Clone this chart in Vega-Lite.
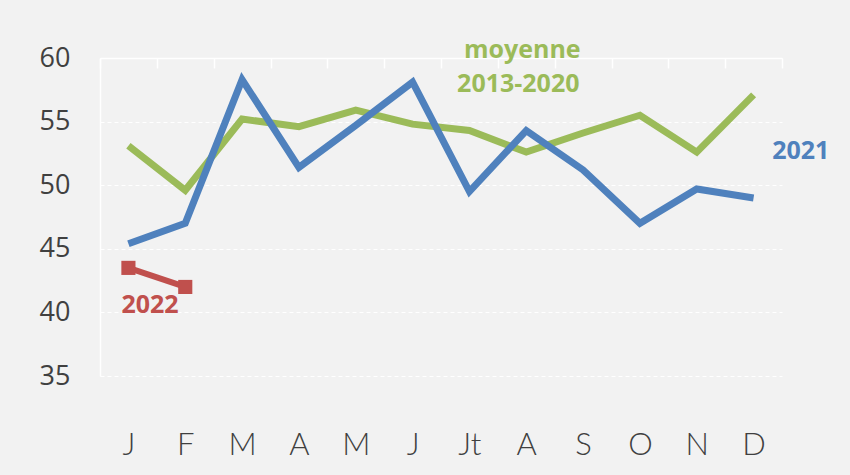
{
  "$schema": "https://vega.github.io/schema/vega-lite/v6.json",
  "autosize": {"type": "none"},
  "width": 682,
  "height": 318,
  "padding": {"left": 100, "top": 58, "right": 68, "bottom": 99},
  "background": "#f2f2f2",
  "config": {"view": {"stroke": null}},
  "datasets": {
    "series": [
      {"m": 1, "s": "moyenne", "v": 53.1},
      {"m": 2, "s": "moyenne", "v": 49.6},
      {"m": 3, "s": "moyenne", "v": 55.2},
      {"m": 4, "s": "moyenne", "v": 54.6},
      {"m": 5, "s": "moyenne", "v": 55.9},
      {"m": 6, "s": "moyenne", "v": 54.8},
      {"m": 7, "s": "moyenne", "v": 54.3},
      {"m": 8, "s": "moyenne", "v": 52.6},
      {"m": 9, "s": "moyenne", "v": 54.1},
      {"m": 10, "s": "moyenne", "v": 55.5},
      {"m": 11, "s": "moyenne", "v": 52.6},
      {"m": 12, "s": "moyenne", "v": 57.1},
      {"m": 1, "s": "2021", "v": 45.4},
      {"m": 2, "s": "2021", "v": 47.0},
      {"m": 3, "s": "2021", "v": 58.3},
      {"m": 4, "s": "2021", "v": 51.4},
      {"m": 5, "s": "2021", "v": 54.7},
      {"m": 6, "s": "2021", "v": 58.1},
      {"m": 7, "s": "2021", "v": 49.5},
      {"m": 8, "s": "2021", "v": 54.3},
      {"m": 9, "s": "2021", "v": 51.2},
      {"m": 10, "s": "2021", "v": 47.0},
      {"m": 11, "s": "2021", "v": 49.7},
      {"m": 12, "s": "2021", "v": 49.0}
    ],
    "y2022": [
      {"m": 1, "v": 43.5},
      {"m": 2, "v": 42.0}
    ],
    "labels": [
      {"m": 7.93, "v": 60.6, "t": "moyenne", "s": "moyenne"},
      {"m": 7.86, "v": 57.95, "t": "2013-2020", "s": "moyenne"},
      {"m": 12.83, "v": 52.7, "t": "2021", "s": "2021"},
      {"m": 1.38, "v": 40.6, "t": "2022", "s": "2022"}
    ]
  },
  "resolve": {"axis": {"x": "independent"}},
  "layer": [
    {
      "data": {"name": "series"},
      "mark": {"type": "line", "strokeWidth": 7, "strokeCap": "butt", "strokeJoin": "miter"},
      "encoding": {
        "x": {"field": "m", "type": "quantitative",
          "scale": {"domain": [0.5, 12.5], "nice": false, "zero": false},
          "axis": {"orient": "top", "title": null, "labels": false,
            "values": [0.5, 1.5, 2.5, 3.5, 4.5, 5.5, 6.5, 7.5, 8.5, 9.5, 10.5, 11.5, 12.5],
            "domainColor": "#ffffff", "domainWidth": 1.5,
            "tickColor": "#ffffff", "tickSize": -10, "tickWidth": 1.5, "grid": false}},
        "y": {"field": "v", "type": "quantitative",
          "scale": {"domain": [35, 60], "nice": false, "zero": false},
          "axis": {"title": null, "values": [35, 40, 45, 50, 55, 60],
            "grid": true, "gridColor": "#ffffff", "gridDash": [4, 3], "gridWidth": 1,
            "domainColor": "#ffffff", "domainWidth": 1.5, "ticks": false,
            "labelPadding": 30, "labelFontSize": 27, "labelFont": "Open Sans",
            "labelColor": "#404040"}},
        "color": {"field": "s", "type": "nominal",
          "scale": {"domain": ["moyenne", "2021", "2022"], "range": ["#9bbb59", "#4f81bd", "#c0504d"]},
          "legend": null},
        "order": {"field": "m"}
      }
    },
    {
      "data": {"name": "y2022"},
      "mark": {"type": "line", "strokeWidth": 6, "color": "#c0504d",
        "point": {"shape": "square", "size": 200, "filled": true, "color": "#c0504d", "opacity": 1}},
      "encoding": {
        "x": {"field": "m", "type": "quantitative",
          "axis": {"orient": "bottom", "title": null,
            "values": [1, 2, 3, 4, 5, 6, 7, 8, 9, 10, 11, 12],
            "labelExpr": "['','J','F','M','A','M','J','Jt','A','S','O','N','D'][datum.value]",
            "domain": false, "ticks": false, "grid": false,
            "labelPadding": 54, "labelFontSize": 31, "labelFont": "Lato", "labelFontWeight": 300,
            "labelColor": "#404040", "labelFlush": false}},
        "y": {"field": "v", "type": "quantitative"}
      }
    },
    {
      "data": {"name": "labels"},
      "mark": {"type": "text", "fontSize": 25, "fontWeight": "bold", "font": "Open Sans", "baseline": "middle", "align": "center"},
      "encoding": {
        "x": {"field": "m", "type": "quantitative", "axis": null},
        "y": {"field": "v", "type": "quantitative"},
        "text": {"field": "t"},
        "color": {"field": "s", "type": "nominal"}
      }
    }
  ]
}
